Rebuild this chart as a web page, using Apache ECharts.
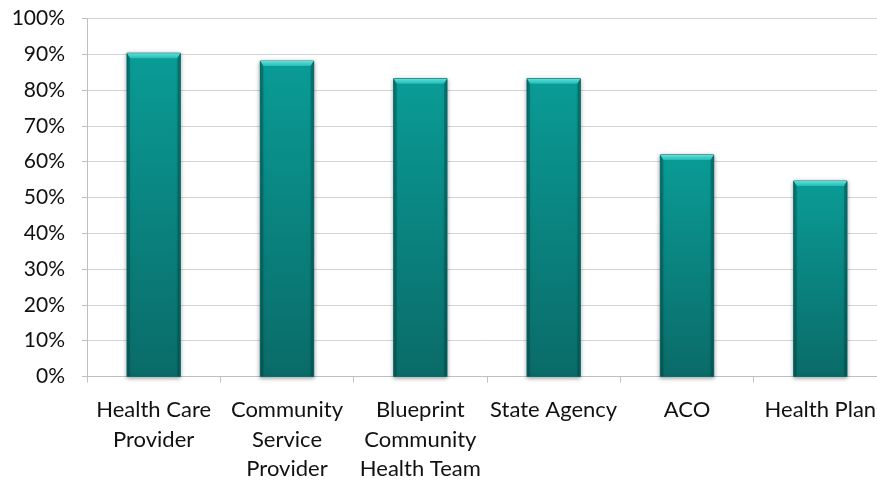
<!DOCTYPE html>
<html>
<head>
<meta charset="utf-8">
<script src="https://cdn.jsdelivr.net/npm/echarts@6/dist/echarts.min.js"></script>
<style>
  html, body { margin: 0; padding: 0; background: #ffffff; }
  #chart { width: 877px; height: 481px; }
</style>
</head>
<body>
<div id="chart"></div>
<script>
// Share of respondents by organisation type
const categories = [
  'Health Care\nProvider',
  'Community\nService\nProvider',
  'Blueprint\nCommunity\nHealth Team',
  'State Agency',
  'ACO',
  'Health Plan'
];
const values = [0.903, 0.881, 0.832, 0.832, 0.619, 0.546];
const yTicks = [0, 0.1, 0.2, 0.3, 0.4, 0.5, 0.6, 0.7, 0.8, 0.9, 1.0];

const FONT = 'Lato, "Open Sans", sans-serif';

// Bar with a bevelled top edge, placed through the axis scales
function renderBar(params, api) {
  const top = api.coord([api.value(0), api.value(1)]);
  const base = api.coord([api.value(0), 0]);
  const band = api.size([1, 0])[0];
  const w = band * 0.4;
  const x0 = top[0] - w / 2;
  const x1 = top[0] + w / 2;
  const y0 = top[1];
  const y1 = base[1];
  const bevel = 5;
  return {
    type: 'group',
    children: [
      {
        type: 'rect',
        shape: { x: x0, y: y0, width: w, height: y1 - y0 },
        style: {
          fill: new echarts.graphic.LinearGradient(0, 0, 0, 1, [
            { offset: 0, color: '#0a9c97' },
            { offset: 1, color: '#0a6b68' }
          ]),
          stroke: '#0b6f6c',
          lineWidth: 1,
          shadowBlur: 4,
          shadowColor: 'rgba(0,0,0,0.35)',
          shadowOffsetX: 0,
          shadowOffsetY: 1
        }
      },
      {
        type: 'polygon',
        shape: {
          points: [[x0, y0], [x1, y0], [x1 - 3, y0 + bevel], [x0 + 3, y0 + bevel]]
        },
        style: {
          fill: new echarts.graphic.LinearGradient(0, 0, 0, 1, [
            { offset: 0, color: '#5ee0d9' },
            { offset: 1, color: '#22bdb6' }
          ])
        }
      },
      {
        type: 'polygon',
        shape: { points: [[x0, y0], [x0 + 3, y0 + bevel], [x0 + 3, y1], [x0, y1]] },
        style: { fill: 'rgba(0,60,58,0.35)' }
      },
      {
        type: 'polygon',
        shape: { points: [[x1, y0], [x1 - 3, y0 + bevel], [x1 - 3, y1], [x1, y1]] },
        style: { fill: 'rgba(0,60,58,0.35)' }
      }
    ]
  };
}

const chart = echarts.init(document.getElementById('chart'));
chart.setOption({
  animation: false,
  backgroundColor: '#ffffff',
  grid: {
    left: 87, top: 18.5, width: 800, height: 358,
    containLabel: false,
    outerBoundsMode: 'none'
  },
  xAxis: {
    type: 'category',
    data: categories,
    boundaryGap: true,
    axisLine: { show: true, lineStyle: { color: '#bfbfbf', width: 1 } },
    axisTick: { show: true, length: 6, alignWithLabel: false, lineStyle: { color: '#bfbfbf' } },
    axisLabel: {
      interval: 0,
      color: '#111111',
      fontFamily: FONT,
      fontSize: 22,
      lineHeight: 29.5,
      margin: 19
    },
    splitLine: { show: false }
  },
  yAxis: {
    type: 'value',
    min: 0,
    max: 1,
    interval: 0.1,
    axisLine: { show: true, lineStyle: { color: '#bfbfbf', width: 1 } },
    axisTick: { show: true, length: 5, lineStyle: { color: '#bfbfbf' } },
    axisLabel: {
      color: '#111111',
      fontFamily: FONT,
      fontSize: 21,
      margin: 22,
      formatter: v => {
        const t = yTicks.find(k => Math.abs(k - v) < 1e-6);
        return Math.round((t !== undefined ? t : v) * 100) + '%';
      }
    },
    splitLine: { show: true, lineStyle: { color: '#d4d4d4', width: 1 } }
  },
  series: [{
    type: 'custom',
    renderItem: renderBar,
    data: values.map((v, i) => [i, v]),
    encode: { x: 0, y: 1 },
    clip: false
  }]
});
</script>
</body>
</html>
